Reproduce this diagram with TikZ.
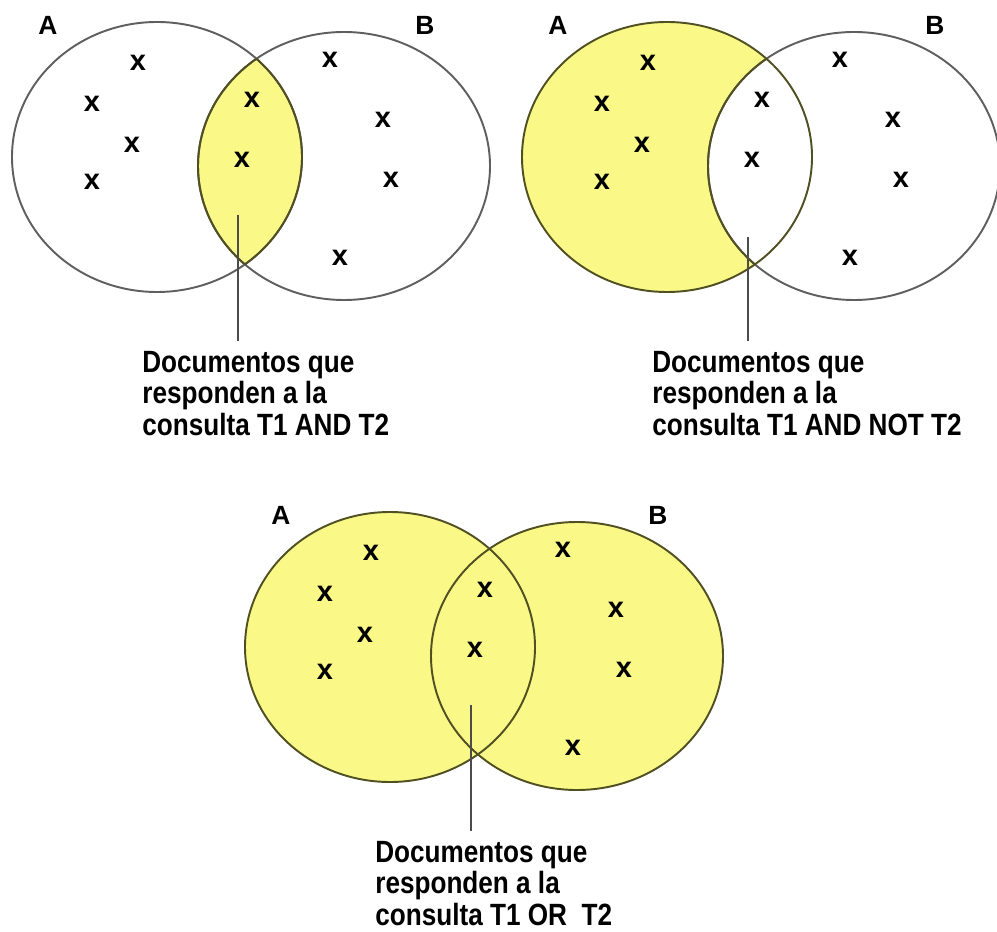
\documentclass[tikz,border=0pt]{standalone}
\usepackage{fontspec}
\setmainfont{Liberation Sans}
\newfontfamily\lblfont[FakeStretch=0.85]{Liberation Sans}
\definecolor{vennyellow}{RGB}{250,249,135}
\definecolor{edgegray}{RGB}{95,95,95}
\definecolor{edgeolive}{RGB}{80,80,35}
\tikzset{
  xmark/.style={font=\bfseries\fontsize{16.5}{16}\selectfont, inner sep=0pt},
  setlabel/.style={font=\bfseries\fontsize{15}{15}\selectfont, inner sep=0pt},
  caption/.style={font=\lblfont\bfseries\fontsize{17.5}{17.9}\selectfont, align=left, inner sep=0pt, anchor=north west},
  outline/.style={line width=1.1pt, draw=edgegray},
  hl/.style={line width=1.1pt, draw=edgeolive},
  pointer/.style={line width=1.2pt, draw=black!70, shorten >=0.2cm}
}
\newcommand\vennA{(157,157) ellipse [x radius=145, y radius=135]}
\newcommand\vennB{(344,166) ellipse [x radius=146, y radius=134]}
\newcommand\vennmarks[2]{%
  \node[setlabel] (lA) at (48,25) {A};
  \node[setlabel] (lB) at (425,25) {B};
  \foreach \p [count=\i] in {(138,63),(92,104),(132,145),(92,182),(252,100),(242,160),(330,60),(383,120),(391,180),(340,258)}
    \node[xmark] (x\i) at \p {x};
  \coordinate (tip) at (238,#1);
  \node[caption] (cap) at (142,351) {Documentos que\\responden a la\\#2};
  \draw[pointer] (tip) -- (tip |- cap.north);
}
\begin{document}
\begin{tikzpicture}[x=0.02cm, y=-0.02cm]
\useasboundingbox (0,0) rectangle (997,932);
% Diagram 1: AND
\begin{scope}[name prefix=d1-]
  \begin{scope} \clip \vennA; \fill[vennyellow] \vennB; \end{scope}
  \draw[outline] \vennA;
  \draw[outline] \vennB;
  \begin{scope} \clip \vennB; \draw[hl] \vennA; \end{scope}
  \begin{scope} \clip \vennA; \draw[hl] \vennB; \end{scope}
  \vennmarks{215}{consulta T1 AND T2}
\end{scope}
% Diagram 2: AND NOT
\begin{scope}[shift={(510,0)}, name prefix=d2-]
  \fill[vennyellow] \vennA;
  \begin{scope} \clip \vennA; \fill[white] \vennB; \end{scope}
  \draw[outline] \vennB;
  \draw[hl] \vennA;
  \begin{scope} \clip \vennA; \draw[hl] \vennB; \end{scope}
  \vennmarks{237}{consulta T1 AND NOT T2}
\end{scope}
% Diagram 3: OR
\begin{scope}[shift={(233,490)}, name prefix=d3-]
  \fill[vennyellow] \vennA;
  \fill[vennyellow] \vennB;
  \draw[hl] \vennA;
  \draw[hl] \vennB;
  \vennmarks{215}{consulta T1 OR\ \ T2}
\end{scope}
\end{tikzpicture}
\end{document}
